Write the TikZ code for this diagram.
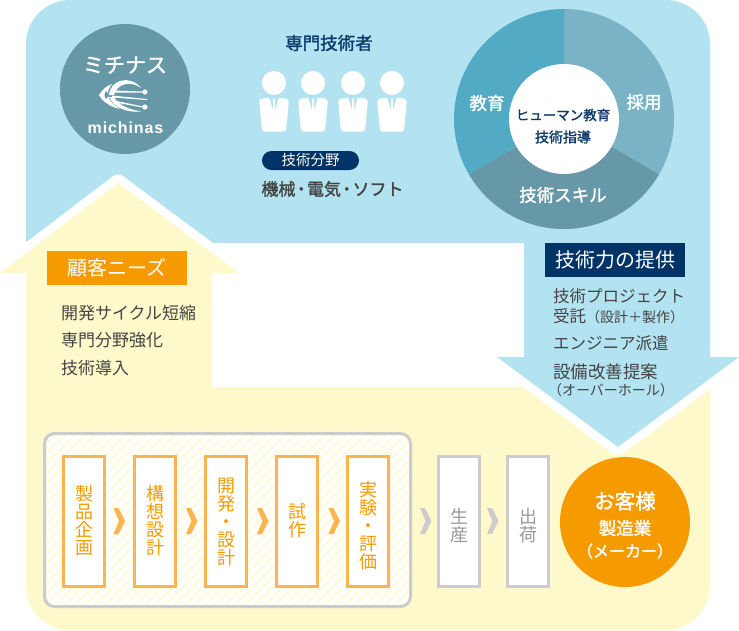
\documentclass[tikz,border=0pt]{standalone}
\usepackage{fontspec}
\setmainfont{Noto Sans CJK JP}
\newfontfamily\medf[FakeBold=1.6]{Noto Sans CJK JP}
\newfontfamily\latinbold{Liberation Sans}
\definecolor{skyb}{HTML}{B3E3F0}
\definecolor{creamy}{HTML}{FDF9CB}
\definecolor{hatchy}{HTML}{FEFBE0}
\definecolor{navy}{HTML}{003366}
\definecolor{navytxt}{HTML}{0B3A6B}
\definecolor{orng}{HTML}{F59B00}
\definecolor{orngl}{HTML}{FBB450}
\definecolor{grayb}{HTML}{CCCCCC}
\definecolor{grayt}{HTML}{999999}
\definecolor{logob}{HTML}{6698A8}
\definecolor{sectA}{HTML}{7AB3C5}
\definecolor{sectB}{HTML}{52AAC4}
\definecolor{txtd}{HTML}{444444}
\newcommand{\fs}[1]{\fontsize{#1}{#1}\selectfont}
\tikzset{
  x=1pt,y=-1pt,
  lbl/.style={inner sep=0pt,outer sep=0pt,align=center},
  listitem/.style={lbl,anchor=west,text=txtd,font=\fs{16.5}},
  procbox/.style={draw=orngl,line width=3pt,fill=white,minimum width=41pt,minimum height=130pt,inner sep=0pt,anchor=north west},
  grayproc/.style={procbox,draw=grayb},
  vtxt/.style={lbl,text=orng,font={\fontsize{18}{18}\selectfont}},
  vgray/.style={vtxt,text=grayt},
  chev/.style={fill=orngl,draw=none},
  chevg/.style={fill=grayb,draw=none},
  whitelbl/.style={lbl,text=white},
}
\begin{document}
\begin{tikzpicture}
\useasboundingbox (0,0) rectangle (739,630);
% blue field
\fill[skyb] (26,44) arc[start angle=180,end angle=270,radius=44] -- (666,0) arc[start angle=270,end angle=360,radius=44]
  -- (710,357) -- (739,357) -- (618,447) -- (497,357) -- (524,357) -- (524,243) -- (26,243) -- cycle;
\fill[skyb] (26,200) rectangle (212,260);
% white halo and yellow field
\draw[white,line width=17pt,line join=round] (0,273) -- (118,183) -- (239,273);
\fill[creamy] (118,183) -- (239,273) -- (212,273) -- (212,387) -- (710,387) -- (710,586)
  arc[start angle=0,end angle=90,radius=44] -- (70,630) arc[start angle=90,end angle=180,radius=44]
  -- (26,273) -- (0,273) -- cycle;
% blue head over yellow
\draw[white,line width=17pt,line join=round] (497,357) -- (618,447) -- (739,357);
\fill[skyb] (710,340) -- (710,357) -- (739,357) -- (618,447) -- (497,357) -- (524,357) -- (524,340) -- cycle;
% process panel
\begin{scope}
\clip[rounded corners=10pt] (44.5,433.5) rectangle (410.5,606.5);
\fill[white] (44,433) rectangle (411,607);
\foreach \k in {-200,-190,...,420}{\draw[hatchy,line width=2.5pt] (\k,620) -- (\k+200,420);}
\end{scope}
\draw[grayb,line width=3pt,rounded corners=10pt] (44.5,433.5) rectangle (410.5,606.5);
\node[procbox] (p1) at (62,455) {};
\node[procbox] (p2) at (133,455) {};
\node[procbox] (p3) at (204,455) {};
\node[procbox] (p4) at (275,455) {};
\node[procbox] (p5) at (346,455) {};
\node[grayproc] (p6) at (437,455) {};
\node[grayproc] (p7) at (506,455) {};
\node[vtxt] (t1) at (84,521) {製\\品\\企\\画};
\node[vtxt] (t2) at (155,521) {構\\想\\設\\計};
\node[vtxt] (t3) at (226,522) {開\\発\\・\\設\\計};
\node[vtxt] (t4) at (297,521) {試\\作};
\node[vtxt] (t5) at (368,526) {実\\験\\・\\評\\価};
\node[vgray] (t6) at (459,526) {生\\産};
\node[vgray] (t7) at (528,526) {出\\荷};
\foreach \cx/\st in {113.5/chev,186/chev,257/chev,328.5/chev,420/chevg,487/chevg}{
  \fill[\st] (\cx,508) -- (\cx+5,508) -- (\cx+11.5,521) -- (\cx+5,534) -- (\cx,534) -- (\cx+5.5,521) -- cycle;
}
% customer
\node[circle,fill=orng,minimum size=130pt,inner sep=0pt] (cust) at (625,522) {};
\node[whitelbl,font=\medf\fs{20.5}] (c1) at (625,501) {お客様};
\node[whitelbl,font=\medf\fs{17.5}] (c2) at (625,528) {製造業};
\node[whitelbl,font=\medf\fs{16}] (c3) at (625,551) {（メーカー）};
% needs
\node[fill=orng,minimum width=140pt,minimum height=34pt,inner sep=0pt,anchor=north west] (needs) at (47,251) {};
\node[whitelbl,font=\fs{20}] (needst) at (116.5,268) {顧客ニーズ};
\node[listitem,font=\fs{17}] (n1) at (61,313) {開発サイクル短縮};
\node[listitem,font=\fs{17}] (n2) at (61,340) {専門分野強化};
\node[listitem,font=\fs{17}] (n3) at (61,368) {技術導入};
% offer
\node[fill=navy,minimum width=140pt,minimum height=34pt,inner sep=0pt,anchor=north west] (offer) at (545,243) {};
\node[whitelbl,font=\fs{20}] (offert) at (615,260) {技術力の提供};
\node[listitem] (o1) at (553,296) {技術プロジェクト};
\node[listitem] (o2) at (553,316) {受託{\fs{14}（設計＋製作）}};
\node[listitem] (o3) at (553,343) {エンジニア派遣};
\node[listitem,font=\fs{17.5}] (o4) at (553,372) {設備改善提案};
\node[listitem,font=\fs{14}] (o5) at (548,390) {（オーバーホール）};
% logo
\node[circle,fill=logob,minimum size=130pt,inner sep=0pt] (logo) at (125,89) {};
\node[whitelbl,font=\medf\fs{21}] (logot) at (125,65) {ミチナス};
\node[whitelbl,font=\latinbold\fs{16}\bfseries] (logoe) at (125.5,127.5) {m\kern.9pt i\kern.9pt c\kern.9pt h\kern.9pt i\kern.9pt n\kern.9pt a\kern.9pt s};
\fill[white] (145,92) circle[radius=2.6] (145,107) circle[radius=2.6];
\fill[white] (109,95) .. controls (110,80) and (130,74) .. (141,88) .. controls (130,80) and (117,84) .. (114,95) -- cycle;
\fill[white] (109,97) .. controls (114,108) and (128,113) .. (141,111.5) .. controls (128,109) and (118,105) .. (114,97) -- cycle;
\fill[white] (112,90.5) -- (143,91.5) -- (143,92.5) -- (112,92.5) -- cycle;
\fill[white] (112,95.5) -- (147,99) -- (147,100) -- (112,97.5) -- cycle;
\fill[white] (112,100) -- (143,106.5) -- (143,107.5) -- (112,102) -- cycle;
\fill[white] (99,95) .. controls (102,90) and (106,86) .. (112,84) .. controls (109,88) and (107,92) .. (108,95) .. controls (108,99) and (112,104) .. (120,109) .. controls (110,107) and (102,101) .. (99,95) -- cycle;
\fill[logob] (106,91) .. controls (104,94) and (104,96) .. (106,99) .. controls (109,96) and (109,94) .. (106,91) -- cycle;
% experts
\node[lbl,text=navytxt,font=\medf\fs{17.5}] (expt) at (329,43) {専門技術者};
\foreach \px in {274,313,353,392}{
  \fill[white] (\px,83) circle[radius=12];
  \fill[white,rounded corners=3pt] (\px-15,99) -- (\px-4,97.5) -- (\px+4,97.5) -- (\px+15,99) -- (\px+12,131.5) -- (\px-12,131.5) -- cycle;
  \fill[skyb] (\px-5,97) -- (\px-1,97) -- (\px-1,109.5) -- cycle;
  \fill[skyb] (\px+5,97) -- (\px+1,97) -- (\px+1,109.5) -- cycle;
  \fill[skyb] (\px-1.2,97) -- (\px+1.2,97) -- (\px,99.5) -- cycle;
}
\node[fill=navy,rounded corners=9.5pt,minimum width=97pt,minimum height=19pt,inner sep=0pt] (pill) at (310.5,160.5) {};
\node[whitelbl,font=\fs{14.5}] (pillt) at (310.5,160.5) {技術分野};
\node[lbl,text=txtd,font=\medf\fs{17}] (field) at (332.5,189) {機械\kern-2.75pt・\kern-2.75pt電気\kern-2.75pt・\kern-2.75ptソフト};
% wheel
\fill[logob] (564,119) -- ++(30:110) arc[start angle=30,end angle=150,radius=110] -- cycle;
\fill[sectA] (564,119) -- (564,9) arc[start angle=270,end angle=390,radius=110] -- cycle;
\fill[sectB] (564,119) -- (564,9) arc[start angle=270,end angle=150,radius=110] -- cycle;
\node[circle,fill=white,minimum size=110pt,inner sep=0pt] (hub) at (564,119) {};
\node[whitelbl,font=\medf\fs{17.5}] (w1) at (487,103) {教育};
\node[whitelbl,font=\medf\fs{17.5}] (w2) at (644,102) {採用};
\node[whitelbl,font=\medf\fs{17.5}] (w3) at (563,195) {技術スキル};
\node[lbl,text=navytxt,font=\medf\fs{13.5}] (h1) at (563,115) {ヒューマン教育};
\node[lbl,text=navytxt,font=\medf\fs{14}] (h2) at (563,137) {技術指導};
\end{tikzpicture}
\end{document}
